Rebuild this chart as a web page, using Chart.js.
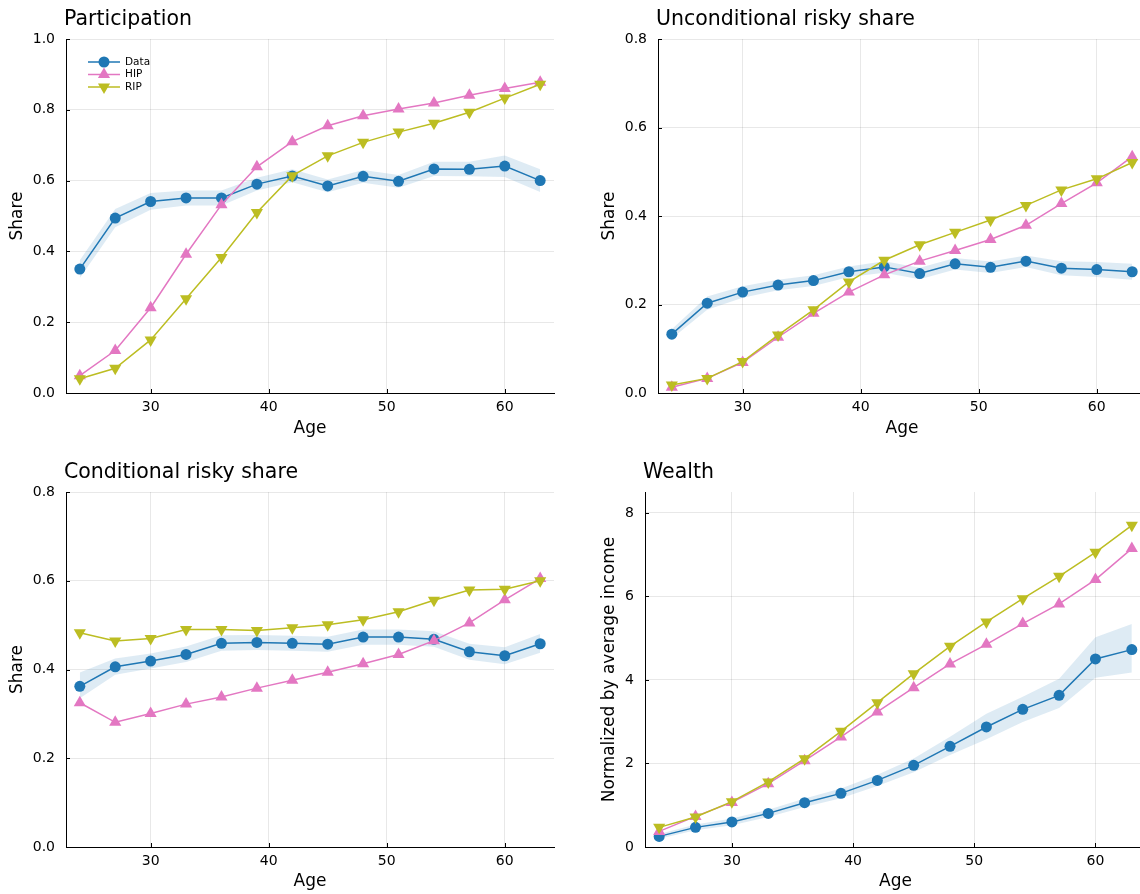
<!DOCTYPE html>
<html>
<head>
<meta charset="utf-8">
<title>Life-cycle portfolio profiles</title>
<script src="https://cdn.jsdelivr.net/npm/chart.js@4.4.1/dist/chart.umd.min.js"></script>
<style>
  html, body { margin: 0; padding: 0; background: #fff; overflow: hidden; }
  #wrap { position: relative; width: 1140px; height: 894px; overflow: hidden; }
  #wrap canvas { position: absolute; left: 0; top: 0; }
</style>
</head>
<body>
<div id="wrap">
  <canvas id="pParticipation" width="1180" height="894"></canvas>
  <canvas id="pUncond" width="1180" height="894"></canvas>
  <canvas id="pCond" width="1180" height="894"></canvas>
  <canvas id="pWealth" width="1180" height="894"></canvas>
</div>
<script>
// ---- ages and tick labels ----
const ages = [24, 27, 30, 33, 36, 39, 42, 45, 48, 51, 54, 57, 60, 63];
const ageTicks = [30, 40, 50, 60];
const shareTicksFull = [0, 0.2, 0.4, 0.6, 0.8, 1.0];
const shareTicks = [0, 0.2, 0.4, 0.6, 0.8];
const wealthTicks = [0, 2, 4, 6, 8];

// ---- participation ----
const partData = [0.350, 0.494, 0.541, 0.551, 0.551, 0.590, 0.613, 0.585, 0.612, 0.598, 0.633, 0.632, 0.641, 0.600];
const partLo   = [0.325, 0.468, 0.518, 0.530, 0.530, 0.572, 0.595, 0.567, 0.594, 0.580, 0.613, 0.612, 0.610, 0.568];
const partHi   = [0.375, 0.520, 0.565, 0.572, 0.572, 0.608, 0.632, 0.603, 0.630, 0.616, 0.653, 0.653, 0.671, 0.632];
const partHIP  = [0.049, 0.120, 0.241, 0.392, 0.532, 0.639, 0.710, 0.755, 0.783, 0.802, 0.819, 0.841, 0.860, 0.878];
const partRIP  = [0.040, 0.070, 0.150, 0.266, 0.383, 0.510, 0.614, 0.670, 0.708, 0.737, 0.762, 0.793, 0.833, 0.872];

// ---- unconditional risky share ----
const uncData = [0.133, 0.203, 0.228, 0.244, 0.254, 0.274, 0.285, 0.270, 0.292, 0.284, 0.298, 0.282, 0.279, 0.274];
const uncLo   = [0.123, 0.188, 0.215, 0.232, 0.242, 0.262, 0.272, 0.257, 0.279, 0.271, 0.285, 0.266, 0.262, 0.256];
const uncHi   = [0.144, 0.218, 0.241, 0.256, 0.266, 0.286, 0.298, 0.283, 0.305, 0.297, 0.311, 0.298, 0.296, 0.292];
const uncHIP  = [0.013, 0.033, 0.069, 0.126, 0.180, 0.228, 0.267, 0.298, 0.322, 0.347, 0.379, 0.428, 0.475, 0.534];
const uncRIP  = [0.018, 0.033, 0.071, 0.131, 0.188, 0.251, 0.300, 0.335, 0.363, 0.391, 0.424, 0.459, 0.484, 0.521];

// ---- conditional risky share ----
const condData = [0.362, 0.406, 0.419, 0.434, 0.459, 0.461, 0.459, 0.457, 0.473, 0.473, 0.468, 0.440, 0.431, 0.458];
const condLo   = [0.335, 0.388, 0.402, 0.417, 0.442, 0.444, 0.442, 0.440, 0.456, 0.456, 0.451, 0.422, 0.412, 0.438];
const condHi   = [0.393, 0.425, 0.436, 0.452, 0.477, 0.478, 0.476, 0.474, 0.490, 0.490, 0.486, 0.458, 0.450, 0.480];
const condHIP  = [0.325, 0.281, 0.301, 0.322, 0.338, 0.358, 0.376, 0.394, 0.413, 0.434, 0.465, 0.505, 0.557, 0.605];
const condRIP  = [0.483, 0.464, 0.470, 0.490, 0.490, 0.488, 0.494, 0.501, 0.512, 0.530, 0.556, 0.579, 0.581, 0.600];

// ---- wealth (normalized by average income) ----
const wData = [0.254, 0.470, 0.599, 0.805, 1.061, 1.284, 1.595, 1.955, 2.410, 2.874, 3.296, 3.631, 4.503, 4.726];
const wLo   = [0.200, 0.400, 0.520, 0.720, 0.960, 1.170, 1.460, 1.790, 2.200, 2.580, 2.990, 3.330, 4.050, 4.180];
const wHi   = [0.310, 0.540, 0.680, 0.890, 1.160, 1.400, 1.730, 2.120, 2.640, 3.190, 3.600, 4.030, 5.020, 5.340];
const wHIP  = [0.374, 0.733, 1.068, 1.516, 2.067, 2.635, 3.233, 3.816, 4.383, 4.853, 5.349, 5.820, 6.402, 7.145];
const wRIP  = [0.470, 0.720, 1.085, 1.557, 2.115, 2.769, 3.456, 4.151, 4.805, 5.389, 5.947, 6.481, 7.056, 7.703];

// ---- styling ----
const FAMILY = "'DejaVu Sans', 'Liberation Sans', sans-serif";
const C_DATA = '#1f77b4';
const C_HIP = '#e377c2';
const C_RIP = '#bcbd22';
const C_BAND = 'rgba(31,119,180,0.15)';
const C_GRID = 'rgba(0,0,0,0.09)';
const W = 1180, H = 894;   // canvas size; the right-hand panels run slightly past the page edge
const AGE_MIN = 22.83, AGE_MAX = 64.17;

const pts = arr => ages.map((a, i) => ({ x: a, y: arr[i] }));

function buildDatasets(d, lo, hi, hip, rip) {
  return [
    { label: 'lower', data: pts(lo), borderColor: 'rgba(0,0,0,0)', borderWidth: 1,
      pointRadius: 0, fill: false, order: 4 },
    { label: 'upper', data: pts(hi), borderColor: 'rgba(0,0,0,0)', borderWidth: 1,
      pointRadius: 0, fill: { target: 0 }, backgroundColor: C_BAND, order: 3 },
    { label: 'Data', data: pts(d), borderColor: C_DATA, backgroundColor: C_DATA,
      borderWidth: 1.5, pointStyle: 'circle', pointRadius: 5.5, pointBorderWidth: 0,
      fill: false, order: 2, inLegend: true },
    { label: 'HIP', data: pts(hip), borderColor: C_HIP, backgroundColor: C_HIP,
      borderWidth: 1.5, pointStyle: 'triangle', pointRadius: 7, pointBorderWidth: 0,
      fill: false, order: 1, inLegend: true },
    { label: 'RIP', data: pts(rip), borderColor: C_RIP, backgroundColor: C_RIP,
      borderWidth: 1.5, pointStyle: 'triangle', pointRotation: 180, pointRadius: 7,
      pointBorderWidth: 0, fill: false, order: 0, inLegend: true }
  ];
}

// small inward tick marks on the left and bottom axes
const inwardTicks = {
  id: 'inwardTicks',
  afterDraw(chart) {
    const { ctx, chartArea: a, scales: { x, y } } = chart;
    ctx.save();
    ctx.strokeStyle = '#000';
    ctx.lineWidth = 1;
    ctx.beginPath();
    x.ticks.forEach(t => {
      const px = Math.round(x.getPixelForValue(t.value)) + 0.5;
      ctx.moveTo(px, a.bottom); ctx.lineTo(px, a.bottom - 4);
    });
    y.ticks.forEach(t => {
      const py = Math.round(y.getPixelForValue(t.value)) + 0.5;
      ctx.moveTo(a.left, py); ctx.lineTo(a.left + 4, py);
    });
    ctx.stroke();
    ctx.restore();
  }
};

// panel title, left-aligned with the plot area
const panelTitle = {
  id: 'panelTitle',
  afterDraw(chart, args, opts) {
    const { ctx, chartArea: a } = chart;
    ctx.save();
    ctx.fillStyle = '#000';
    ctx.font = '20.5px ' + FAMILY;
    ctx.textAlign = 'left';
    ctx.textBaseline = 'alphabetic';
    ctx.fillText(opts.text, a.left - 2, a.top - 14);
    ctx.restore();
  }
};

// legend with line + marker samples, drawn inside the plot area
const lineLegend = {
  id: 'lineLegend',
  afterDraw(chart, args, opts) {
    if (!opts.show) return;
    const { ctx, chartArea: a } = chart;
    const x0 = a.left + 22, x1 = a.left + 54, tx = a.left + 59;
    let yy = a.top + 23;
    ctx.save();
    chart.data.datasets.filter(ds => ds.inLegend).forEach(ds => {
      ctx.strokeStyle = ds.borderColor;
      ctx.lineWidth = 1.5;
      ctx.beginPath();
      ctx.moveTo(x0, yy); ctx.lineTo(x1, yy);
      ctx.stroke();
      ctx.fillStyle = ds.backgroundColor;
      Chart.helpers.drawPoint(ctx, {
        pointStyle: ds.pointStyle, rotation: ds.pointRotation || 0,
        radius: ds.pointRadius, borderWidth: 0
      }, (x0 + x1) / 2, yy);
      ctx.fillStyle = '#000';
      ctx.font = '10.5px ' + FAMILY;
      ctx.textAlign = 'left';
      ctx.textBaseline = 'middle';
      ctx.fillText(ds.label, tx, yy);
      yy += 12.5;
    });
    ctx.restore();
  }
};

function panel(id, p) {
  const lh = 17 * 1.2;
  const padL = p.yTitleX - lh / 2;
  const padB = H - p.xTitleY - lh / 2;
  const yWidth = p.area.l - padL;
  const xHeight = H - padB - p.area.b;
  return new Chart(document.getElementById(id), {
    type: 'line',
    data: { datasets: buildDatasets(...p.series) },
    options: {
      responsive: false,
      animation: false,
      events: [],
      layout: { padding: { left: padL, top: p.area.t, right: W - p.area.r, bottom: padB } },
      plugins: {
        legend: { display: false },
        tooltip: { enabled: false },
        panelTitle: { text: p.title },
        lineLegend: { show: !!p.legend }
      },
      scales: {
        x: {
          type: 'linear', min: AGE_MIN, max: AGE_MAX,
          afterBuildTicks: s => { s.ticks = ageTicks.map(v => ({ value: v })); },
          afterFit: s => { s.height = xHeight; s.paddingLeft = 0; s.paddingRight = 0; },
          grid: { color: C_GRID, lineWidth: 1, drawTicks: false },
          border: { display: true, color: '#000', width: 1 },
          ticks: { color: '#000', font: { family: FAMILY, size: 14 }, padding: 6,
                   callback: v => String(v) },
          title: { display: true, text: 'Age', color: '#000',
                   font: { family: FAMILY, size: 17 }, padding: 0 }
        },
        y: {
          type: 'linear', min: p.yMin, max: p.yMax,
          afterBuildTicks: s => { s.ticks = p.yTicks.map(v => ({ value: v })); },
          afterFit: s => { s.width = yWidth; s.paddingTop = 0; s.paddingBottom = 0; },
          grid: { color: C_GRID, lineWidth: 1, drawTicks: false },
          border: { display: true, color: '#000', width: 1 },
          ticks: { color: '#000', font: { family: FAMILY, size: 14 }, padding: 11,
                   callback: p.yFmt },
          title: { display: true, text: p.yTitle, color: '#000',
                   font: { family: FAMILY, size: 17 }, padding: 0 }
        }
      }
    },
    plugins: [inwardTicks, panelTitle, lineLegend]
  });
}

const oneDec = v => Number(v).toFixed(1);
const intFmt = v => String(Math.round(v));

panel('pParticipation', {
  title: 'Participation', yTitle: 'Share', legend: true,
  area: { l: 66, t: 39, r: 554, b: 393 }, yTitleX: 18, xTitleY: 429,
  yMin: 0, yMax: 1.0, yTicks: shareTicksFull, yFmt: oneDec,
  series: [partData, partLo, partHi, partHIP, partRIP]
});
panel('pUncond', {
  title: 'Unconditional risky share', yTitle: 'Share',
  area: { l: 658, t: 39, r: 1146, b: 393 }, yTitleX: 610, xTitleY: 429,
  yMin: 0, yMax: 0.8, yTicks: shareTicks, yFmt: oneDec,
  series: [uncData, uncLo, uncHi, uncHIP, uncRIP]
});
panel('pCond', {
  title: 'Conditional risky share', yTitle: 'Share',
  area: { l: 66, t: 492, r: 554, b: 847 }, yTitleX: 18, xTitleY: 882,
  yMin: 0, yMax: 0.8, yTicks: shareTicks, yFmt: oneDec,
  series: [condData, condLo, condHi, condHIP, condRIP]
});
panel('pWealth', {
  title: 'Wealth', yTitle: 'Normalized by average income',
  area: { l: 645, t: 492, r: 1146, b: 847 }, yTitleX: 610, xTitleY: 882,
  yMin: 0, yMax: 8.5, yTicks: wealthTicks, yFmt: intFmt,
  series: [wData, wLo, wHi, wHIP, wRIP]
});
</script>
</body>
</html>
